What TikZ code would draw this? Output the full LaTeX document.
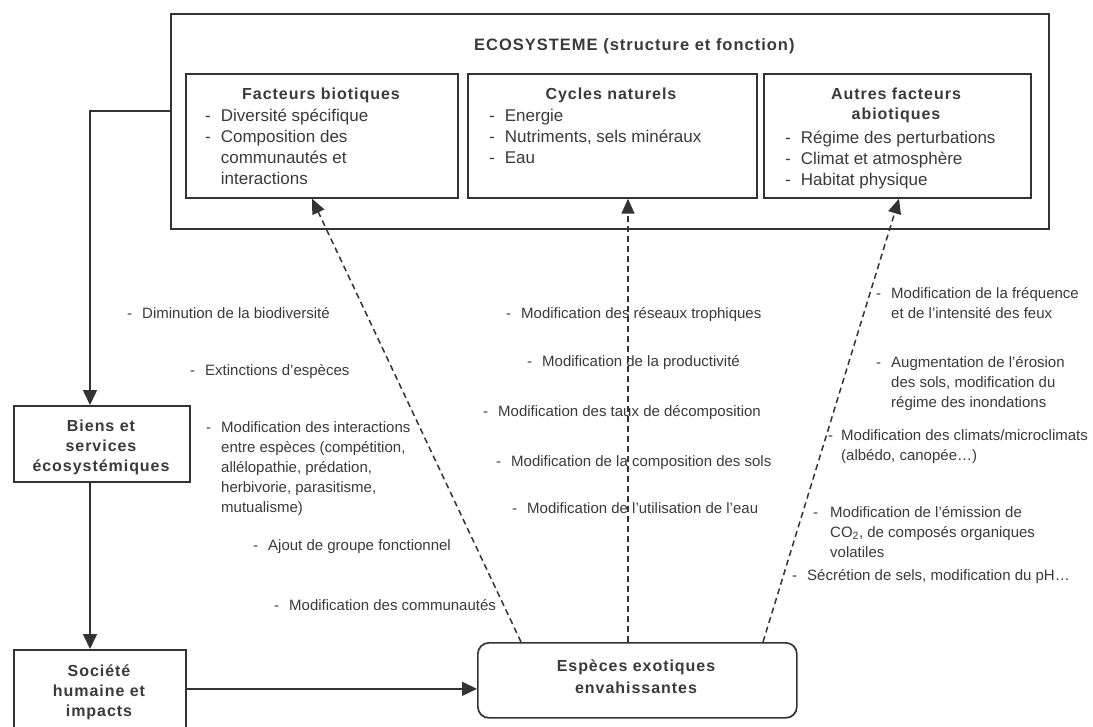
\documentclass[tikz,border=0pt]{standalone}
\usepackage{fontspec}
\setmainfont{Liberation Sans}
\newfontfamily\hdfam[LetterSpace=6]{Liberation Sans}
\usetikzlibrary{arrows.meta,calc}
\definecolor{ink}{HTML}{333333}
\definecolor{txt}{HTML}{3A3A3A}
\newcommand\hdsize{\fontsize{16}{20}\selectfont}
\newcommand\ttlsize{\fontsize{16.5}{20}\selectfont}
\newcommand\itsize{\fontsize{17}{21}\selectfont}
\newcommand\lbsize{\fontsize{15}{20}\selectfont}
\tikzset{
  myframe/.style={draw=ink, line width=1.7pt, anchor=north west, inner sep=0pt},
  txtnode/.style={inner sep=0pt, text=txt},
  lab/.style={txtnode, anchor=base west, font=\lbsize},
  hdtext/.style={txtnode, anchor=base, font=\hdfam\bfseries\hdsize},
  itemtext/.style={txtnode, anchor=base west, font=\itsize},
  solidarrow/.style={draw=ink, line width=1.6pt, -{Triangle[length=15pt,width=14pt]}},
  dasharrow/.style={draw=ink, line width=1.5pt, dash pattern=on 6pt off 4pt, -{Triangle[length=15pt,width=13pt]}},
}
\begin{document}
\begin{tikzpicture}[x=1pt,y=-1pt]
\useasboundingbox (0,0) rectangle (1093,726);
\fill[white] (0,0) rectangle (1093,726);
\clip (0,0) rectangle (1093,726);

% Ecosystem frame
\node[myframe, minimum width=878pt, minimum height=215pt] (eco) at (170,13) {};
\node[txtnode, anchor=base west, font=\hdfam\bfseries\ttlsize] (ecotitle) at (474,50) {ECOSYSTEME (structure et fonction)};

\node[myframe, minimum width=272pt, minimum height=124pt] (bio) at (185,73) {};
\node[myframe, minimum width=289pt, minimum height=124pt] (cyc) at (467,73) {};
\node[myframe, minimum width=267pt, minimum height=124pt] (abio) at (763,73) {};

\node[hdtext] (biohd) at (321,99) {Facteurs biotiques};
\node[itemtext] (bioit) at (205,121) {\begin{tabular}[t]{@{}l@{\hspace{10pt}}l@{}}-&Diversité spécifique\\-&Composition des\\&communautés et\\&interactions\end{tabular}};

\node[hdtext] (cychd) at (611,99) {Cycles naturels};
\node[itemtext] (cycit) at (489,121) {\begin{tabular}[t]{@{}l@{\hspace{10pt}}l@{}}-&Energie\\-&Nutriments, sels minéraux\\-&Eau\end{tabular}};

\node[hdtext] (abiohd) at (896,99) {\begin{tabular}[t]{@{}c@{}}Autres facteurs\\abiotiques\end{tabular}};
\node[itemtext] (abioit) at (785,143) {\begin{tabular}[t]{@{}l@{\hspace{10pt}}l@{}}-&Régime des perturbations\\-&Climat et atmosphère\\-&Habitat physique\end{tabular}};

% Left boxes
\node[myframe, minimum width=176pt, minimum height=76pt] (biens) at (13,405) {};
\node[hdtext] (bienst) at (101,431) {\begin{tabular}[t]{@{}c@{}}Biens et\\services\\écosystémiques\end{tabular}};
\node[myframe, minimum width=172pt, minimum height=95pt] (soc) at (13,649) {};
\node[hdtext] (soct) at (99,676) {\begin{tabular}[t]{@{}c@{}}Société\\humaine et\\impacts\end{tabular}};

% Invasive species
\node[myframe, rounded corners=11pt, minimum width=319pt, minimum height=75pt] (esp) at (477,642) {};
\node[hdtext] (espt) at (636,671) {\begin{tabular}[t]{@{}c@{}}Espèces exotiques\\[2pt]envahissantes\end{tabular}};
\coordinate (espin) at ([yshift=-8.5pt]esp.west);

% Solid connectors
\draw[solidarrow] ([yshift=-98pt]eco.north west) -| ([xshift=77pt]biens.north west);
\draw[solidarrow] ([xshift=77pt]biens.south west) -- ([xshift=77pt]soc.north west);
\draw[solidarrow] (soc.east |- espin) -- (espin);

% Dashed connectors
\draw[dasharrow] ([xshift=44pt]esp.north west) -- ([xshift=127pt]bio.south west);
\draw[dasharrow] ([xshift=151pt]esp.north west) -- ([xshift=161pt]cyc.south west);
\draw[dasharrow] ([xshift=286pt]esp.north west) -- ([xshift=136pt]abio.south west);

% Left labels
\node[lab] (l1) at (127,318) {-\hspace{10pt}Diminution de la biodiversité};
\node[lab] (l2) at (190,375) {-\hspace{10pt}Extinctions d'espèces};
\node[lab] (l3) at (206,432) {\begin{tabular}[t]{@{}l@{\hspace{10pt}}l@{}}-&Modification des interactions\\&entre espèces (compétition,\\&allélopathie, prédation,\\&herbivorie, parasitisme,\\&mutualisme)\end{tabular}};
\node[lab] (l4) at (253,550) {-\hspace{10pt}Ajout de groupe fonctionnel};
\node[lab] (l5) at (274,610) {-\hspace{10pt}Modification des communautés};

% Middle labels
\node[lab] (m1) at (506,318) {-\hspace{10pt}Modification des réseaux trophiques};
\node[lab] (m2) at (527,366) {-\hspace{10pt}Modification de la productivité};
\node[lab] (m3) at (483,416) {-\hspace{10pt}Modification des taux de décomposition};
\node[lab] (m4) at (496,466) {-\hspace{10pt}Modification de la composition des sols};
\node[lab] (m5) at (512,513) {-\hspace{10pt}Modification de l'utilisation de l'eau};

% Right labels
\node[lab] (r1) at (876,298) {\begin{tabular}[t]{@{}l@{\hspace{10pt}}l@{}}-&Modification de la fréquence\\&et de l'intensité des feux\end{tabular}};
\node[lab] (r2) at (876,367) {\begin{tabular}[t]{@{}l@{\hspace{10pt}}l@{}}-&Augmentation de l'érosion\\&des sols, modification du\\&régime des inondations\end{tabular}};
\node[lab] (r3) at (828,440) {\begin{tabular}[t]{@{}l@{\hspace{8pt}}l@{}}-&Modification des climats/microclimats\\&(albédo, canopée…)\end{tabular}};
\node[lab] (r4) at (813,517) {\begin{tabular}[t]{@{}l@{\hspace{12pt}}l@{}}-&Modification de l'émission de\\&CO\textsubscript{2}, de composés organiques\\&volatiles\end{tabular}};
\node[lab] (r5) at (792,580) {-\hspace{10pt}Sécrétion de sels, modification du pH…};
\end{tikzpicture}
\end{document}
